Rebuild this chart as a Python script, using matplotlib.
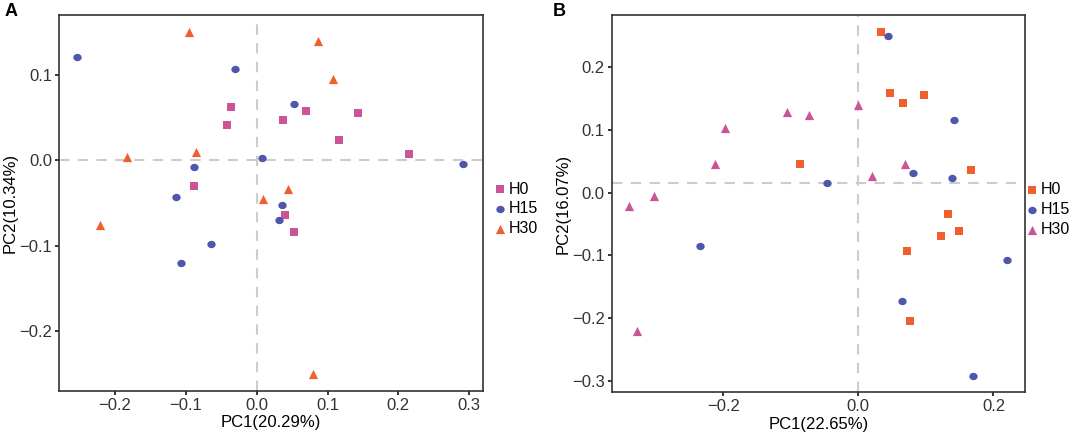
import matplotlib
matplotlib.use("Agg")
import matplotlib.pyplot as plt
import numpy as np
from matplotlib.path import Path

plt.rcParams['font.family'] = ['Liberation Sans', 'DejaVu Sans']

# ---------------- data ----------------
groups = ["H0", "H15", "H30"]

# Panel A
a_h0_x = [-0.036, -0.042, -0.089, 0.069, 0.037, 0.143, 0.116, 0.215, 0.040, 0.052]
a_h0_y = [0.062, 0.041, -0.030, 0.057, 0.047, 0.055, 0.024, 0.007, -0.064, -0.084]
a_h15_x = [-0.253, -0.030, -0.088, -0.114, 0.008, 0.052, 0.291, 0.036, 0.032, -0.065, -0.107]
a_h15_y = [0.121, 0.107, -0.008, -0.043, 0.002, 0.066, -0.004, -0.053, -0.070, -0.098, -0.121]
a_h30_x = [-0.096, -0.183, -0.085, 0.009, 0.087, 0.108, 0.044, 0.080, -0.221]
a_h30_y = [0.150, 0.004, 0.009, -0.045, 0.139, 0.095, -0.034, -0.250, -0.076]

# Panel B
b_h0_x = [0.033, 0.047, 0.097, 0.066, -0.086, 0.166, 0.132, 0.149, 0.123, 0.072, 0.076]
b_h0_y = [0.256, 0.158, 0.155, 0.142, 0.045, 0.036, -0.034, -0.062, -0.070, -0.093, -0.205]
b_h15_x = [0.044, 0.141, 0.081, 0.139, -0.046, 0.220, 0.065, 0.170, -0.234]
b_h15_y = [0.249, 0.115, 0.031, 0.023, 0.015, -0.107, -0.173, -0.292, -0.086]
b_h30_x = [-0.106, -0.073, -0.197, -0.212, -0.303, -0.339, 0.000, 0.069, 0.020, -0.327]
b_h30_y = [0.128, 0.124, 0.103, 0.045, -0.006, -0.021, 0.139, 0.045, 0.026, -0.220]

a_xlabel = "PC1(20.29%)"
a_ylabel = "PC2(10.34%)"
b_xlabel = "PC1(22.65%)"
b_ylabel = "PC2(16.07%)"
a_xticks = [-0.2, -0.1, 0.0, 0.1, 0.2, 0.3]
a_yticks = [-0.2, -0.1, 0.0, 0.1]
b_xticks = [-0.2, 0.0, 0.2]
b_yticks = [-0.3, -0.2, -0.1, 0.0, 0.1, 0.2]
a_hline = 0.0
b_hline = 0.0153

PINK = "#CB5499"
BLUE = "#5056AE"
ORANGE = "#F0602F"

# slightly wide ellipse marker (reference image is horizontally stretched)
_t = np.linspace(0, 2 * np.pi, 41)
ELLIPSE = Path(np.column_stack([np.cos(_t), 0.88 * np.sin(_t)]), closed=True)

fig = plt.figure(figsize=(10.84, 4.40), dpi=100)
axA = fig.add_axes([0.0544, 0.112, 0.3909, 0.8539])
axB = fig.add_axes([0.5643, 0.109, 0.3815, 0.8569])


def style(ax, xticks, yticks, xlim, ylim, xlabel, ylabel, hline):
    ax.set_xlim(*xlim)
    ax.set_ylim(*ylim)
    ax.axhline(hline, color="#CCCCCC", lw=1.5, dashes=(5, 4), zorder=1)
    ax.axvline(0.0, color="#CCCCCC", lw=1.5, dashes=(5, 4), zorder=1)
    ax.set_xticks(xticks)
    ax.set_yticks(yticks)
    ax.set_xticklabels([f"{t:.1f}".replace("-", "\u2212") for t in xticks])
    ax.set_yticklabels([f"{t:.1f}".replace("-", "\u2212") for t in yticks])
    ax.tick_params(direction="out", length=3, width=1.1, color="black",
                   labelsize=12, labelcolor="#333333", pad=2)
    for s in ax.spines.values():
        s.set_color("#333333")
        s.set_linewidth(1.2)
    ax.set_xlabel(xlabel, fontsize=12, color="black", labelpad=2)
    ax.set_ylabel(ylabel, fontsize=12, color="black", labelpad=1)


msz = 30
axA.scatter(a_h0_x, a_h0_y, marker="s", s=msz, color=PINK, label=groups[0], zorder=3, linewidths=0)
axA.scatter(a_h15_x, a_h15_y, marker=ELLIPSE, s=msz + 6, color=BLUE, label=groups[1], zorder=3, linewidths=0)
axA.scatter(a_h30_x, a_h30_y, marker="^", s=msz + 14, color=ORANGE, label=groups[2], zorder=3, linewidths=0)
style(axA, a_xticks, a_yticks, (-0.279, 0.319), (-0.270, 0.170), a_xlabel, a_ylabel, a_hline)

axB.scatter(b_h0_x, b_h0_y, marker="s", s=msz, color=ORANGE, label=groups[0], zorder=3, linewidths=0)
axB.scatter(b_h15_x, b_h15_y, marker=ELLIPSE, s=msz + 6, color=BLUE, label=groups[1], zorder=3, linewidths=0)
axB.scatter(b_h30_x, b_h30_y, marker="^", s=msz + 14, color=PINK, label=groups[2], zorder=3, linewidths=0)
style(axB, b_xticks, b_yticks, (-0.365, 0.247), (-0.318, 0.283), b_xlabel, b_ylabel, b_hline)

for ax, xa in ((axA, 1.011), (axB, 0.985)):
    ax.legend(loc="center left", bbox_to_anchor=(xa, 0.484), frameon=False,
              fontsize=11.5, handletextpad=0.15, labelspacing=0.3,
              borderaxespad=0.0, borderpad=0.4, handlelength=0.8, scatterpoints=1)

fig.text(0.004, 0.974, "A", fontsize=13, fontweight="bold", va="center", ha="left")
fig.text(0.510, 0.974, "B", fontsize=13, fontweight="bold", va="center", ha="left")

fig.savefig("out.png", dpi=100)
